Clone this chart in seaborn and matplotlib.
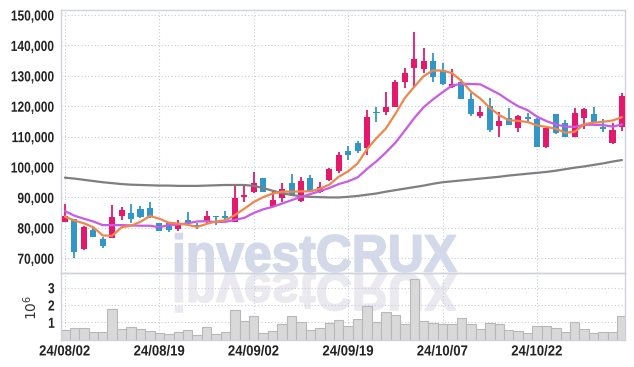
import numpy as np
import pandas as pd
import matplotlib
matplotlib.use('Agg')
import matplotlib.pyplot as plt
import seaborn as sns
from matplotlib import patheffects
from matplotlib.transforms import Affine2D
from matplotlib.ticker import FuncFormatter

# ----
# Data (prices in thousands, volume in millions)
# ----
dates = ['24/08/02', '24/08/05', '24/08/06', '24/08/07', '24/08/08', '24/08/09', '24/08/12', '24/08/13',
         '24/08/14', '24/08/16', '24/08/19', '24/08/20', '24/08/21', '24/08/22', '24/08/23', '24/08/26',
         '24/08/27', '24/08/28', '24/08/29', '24/08/30', '24/09/02', '24/09/03', '24/09/04', '24/09/05',
         '24/09/06', '24/09/09', '24/09/10', '24/09/11', '24/09/12', '24/09/13', '24/09/19', '24/09/20',
         '24/09/23', '24/09/24', '24/09/25', '24/09/26', '24/09/27', '24/09/30', '24/10/02', '24/10/04',
         '24/10/07', '24/10/08', '24/10/10', '24/10/11', '24/10/14', '24/10/15', '24/10/16', '24/10/17',
         '24/10/18', '24/10/21', '24/10/22', '24/10/23', '24/10/24', '24/10/25', '24/10/28', '24/10/29',
         '24/10/30', '24/10/31', '24/11/01', '24/11/04']
open_k = [82.0, 82.8, 73.0, 79.3, 76.3, 76.7, 84.0, 84.8, 86.1, 86.6, 81.5, 81.5, 79.5, 82.6, 80.9, 82.0,
          83.8, 83.9, 82.0, 90.0, 91.9, 96.3, 87.0, 89.9, 94.8, 88.9, 96.5, 91.9, 95.7, 98.8, 105.3, 107.8,
          106.2, 118.0, 118.2, 119.8, 128.1, 132.5, 132.1, 135.0, 131.9, 126.2, 127.9, 122.4, 116.9, 120.2,
          113.6, 116.0, 112.9, 116.3, 115.8, 106.7, 117.4, 114.6, 110.0, 116.0, 117.4, 113.3, 107.8, 113.1]
high_k = [88.0, 83.0, 80.5, 80.4, 77.0, 87.5, 86.9, 87.8, 87.2, 88.4, 81.7, 81.8, 82.6, 85.3, 81.5, 85.6,
          84.0, 85.6, 94.0, 94.1, 98.5, 96.3, 92.1, 94.6, 97.7, 96.8, 97.4, 95.2, 99.8, 105.0, 107.0, 108.6,
          118.8, 119.8, 124.8, 128.6, 132.5, 144.3, 139.2, 137.4, 134.3, 132.1, 128.9, 124.4, 120.2, 122.6,
          118.2, 119.3, 117.2, 117.9, 116.0, 113.5, 117.4, 115.5, 119.5, 119.3, 119.6, 115.7, 114.6, 124.4]
low_k = [81.8, 70.0, 72.8, 77.0, 73.3, 76.5, 82.6, 81.7, 83.2, 83.3, 78.8, 78.7, 79.1, 81.0, 79.7, 81.5,
         80.9, 82.0, 81.9, 88.6, 91.5, 91.9, 86.8, 88.6, 90.8, 88.4, 91.9, 91.3, 95.4, 97.9, 102.3, 104.5,
         104.0, 114.9, 117.1, 119.8, 125.9, 126.4, 130.8, 128.1, 127.0, 125.9, 122.5, 116.9, 116.0, 111.6,
         110.0, 113.8, 111.6, 114.9, 106.7, 106.4, 110.8, 110.0, 110.0, 112.4, 114.9, 111.6, 107.6, 112.0]
close_k = [83.9, 72.2, 80.2, 77.1, 74.1, 83.5, 85.9, 82.9, 83.7, 83.5, 79.1, 79.3, 81.5, 81.5, 80.2, 83.9,
           83.6, 83.4, 89.7, 90.8, 94.8, 91.9, 89.2, 92.8, 90.8, 95.4, 91.9, 93.5, 99.4, 104.0, 104.0, 105.3,
           116.6, 117.8, 119.8, 128.1, 131.0, 135.4, 135.0, 129.7, 127.3, 127.2, 122.5, 117.4, 118.2, 112.2,
           115.2, 113.8, 116.8, 115.9, 106.7, 112.7, 111.1, 110.0, 117.7, 119.1, 114.9, 112.6, 112.2, 123.4]
ma5_k = [83.7, 82.4, 81.5, 80.2, 77.5, 77.4, 80.2, 80.7, 82.0, 83.9, 83.0, 81.7, 81.4, 81.0, 80.3, 81.3,
         82.1, 82.5, 84.2, 86.3, 88.5, 90.1, 91.3, 91.9, 91.9, 92.0, 92.0, 92.9, 94.2, 96.8, 98.6, 101.2,
         105.9, 109.5, 112.7, 117.5, 122.7, 126.4, 129.9, 131.8, 131.7, 130.9, 128.3, 124.8, 122.5, 119.5,
         117.1, 115.4, 115.2, 114.8, 113.7, 113.2, 112.6, 111.3, 111.6, 114.1, 114.6, 114.9, 115.3, 116.4]
ma10_k = [85.5, 84.0, 83.0, 82.1, 80.9, 80.9, 80.9, 80.8, 80.7, 80.7, 80.2, 80.9, 81.1, 81.5, 82.1, 82.2,
          81.9, 82.0, 82.6, 83.3, 84.9, 86.1, 86.9, 88.0, 89.1, 90.2, 91.1, 92.1, 93.1, 94.4, 95.3, 96.6,
          99.4, 101.9, 104.8, 108.0, 112.0, 116.1, 119.7, 122.3, 124.6, 126.8, 127.4, 127.3, 127.2, 125.6,
          124.0, 121.9, 120.0, 118.7, 116.6, 115.1, 114.0, 113.3, 113.2, 113.9, 113.9, 113.8, 113.3, 114.0]
ma_long_k = [96.5, 96.2, 95.8, 95.4, 95.0, 94.7, 94.4, 94.2, 94.1, 94.0, 93.9, 93.9, 93.8, 93.8, 93.8, 93.9,
             94.0, 94.1, 94.1, 94.1, 93.8, 93.1, 92.2, 91.4, 90.8, 90.4, 90.2, 90.1, 90.0, 90.0, 90.2, 90.5,
             90.9, 91.3, 91.9, 92.4, 92.9, 93.4, 93.9, 94.5, 95.0, 95.3, 95.6, 95.9, 96.2, 96.5, 96.8, 97.2,
             97.5, 97.8, 98.1, 98.4, 98.8, 99.3, 99.8, 100.2, 100.7, 101.2, 101.8, 102.3]
volume_m = [0.55, 0.65, 0.65, 0.44, 0.44, 1.75, 0.59, 0.71, 0.59, 0.50, 0.38, 0.32, 0.44, 0.54, 0.25, 0.71,
            0.32, 0.44, 1.69, 1.06, 1.35, 0.38, 0.50, 0.90, 1.35, 1.00, 0.55, 0.65, 0.94, 1.11, 0.79, 1.17,
            1.94, 1.02, 1.58, 1.42, 0.90, 3.49, 1.06, 0.96, 0.90, 0.90, 1.23, 0.90, 0.59, 0.96, 0.90, 0.55,
            0.50, 0.38, 0.77, 0.77, 0.65, 0.44, 1.02, 0.59, 0.38, 0.44, 0.44, 1.35]
tick_every = 10
watermark = 'investCRUX'

UP = '#e5196b'
DOWN = '#3396c9'
ORANGE = '#f0874a'
VIOLET = '#c95be6'
GREY = '#7f7f7f'
GRID = '#c6c9db'
SPINE = '#cfd2da'


# ---------
# Functions
# ---------

class Squeeze(patheffects.AbstractPathEffect):
    # narrows the glyphs horizontally, keeping one edge of the text fixed
    def __init__(self, sx, anchor='right'):
        super().__init__()
        self.sx = sx
        self.anchor = anchor

    def draw_path(self, renderer, gc, tpath, affine, rgbFace=None):
        ext = affine.transform_path(tpath).get_extents()
        x0 = {'right': ext.x1, 'left': ext.x0, 'center': (ext.x0 + ext.x1) / 2}[self.anchor]
        aff = affine + Affine2D().translate(-x0, 0).scale(self.sx, 1).translate(x0, 0)
        renderer.draw_path(gc, tpath, aff, rgbFace)


class FitBox(patheffects.AbstractPathEffect):
    # stretches the text into a pixel box (optionally mirrored) and thickens it a bit
    def __init__(self, box, flip=False, lw=1.2):
        super().__init__()
        self.box = box
        self.flip = flip
        self.lw = lw

    def draw_path(self, renderer, gc, tpath, affine, rgbFace=None):
        x0, y0, x1, y1 = self.box
        ext = affine.transform_path(tpath).get_extents()
        sx = (x1 - x0) / ext.width
        sy = (y1 - y0) / ext.height
        if self.flip:
            aff = affine + Affine2D().translate(-ext.x0, -ext.y0).scale(sx, -sy).translate(x0, y1)
        else:
            aff = affine + Affine2D().translate(-ext.x0, -ext.y0).scale(sx, sy).translate(x0, y0)
        gc0 = renderer.new_gc()
        gc0.copy_properties(gc)
        gc0.set_linewidth(self.lw)
        gc0.set_foreground(rgbFace)
        renderer.draw_path(gc0, tpath, aff, rgbFace)
        gc0.restore()


df = pd.DataFrame({'idx': np.arange(len(dates)), 'date': dates,
                   'open': np.array(open_k) * 1000, 'high': np.array(high_k) * 1000,
                   'low': np.array(low_k) * 1000, 'close': np.array(close_k) * 1000,
                   'ma5': np.array(ma5_k) * 1000, 'ma10': np.array(ma10_k) * 1000,
                   'ma_long': np.array(ma_long_k) * 1000, 'volume': np.array(volume_m) * 1e6})

# ----
# Plot
# ----
sns.set_style('white')
plt.rcParams['font.family'] = ['Liberation Sans', 'DejaVu Sans']

fig = plt.figure(figsize=(6.34, 3.67), dpi=100)
ax = fig.add_axes([61 / 634, 94 / 367, 563.5 / 634, 263 / 367])
axv = fig.add_axes([61 / 634, 27.4 / 367, 563.5 / 634, 66.6 / 367])
axv.patch.set_alpha(0)  # the reflected watermark sits behind the volume bars

# candles
up = df['close'] >= df['open']
cols = np.where(up, UP, DOWN)
ax.vlines(df['idx'], df['low'], df['high'], colors=cols, linewidth=1.3, zorder=3)
body = (df['close'] - df['open']).abs()
body_h = body.clip(lower=300)
body_bottom = np.minimum(df['open'], df['close']) - (body_h - body) / 2
ax.bar(df['idx'], body_h, bottom=body_bottom, width=0.64, color=cols, linewidth=0, zorder=4)

# moving averages
sns.lineplot(data=df, x='idx', y='ma_long', ax=ax, color=GREY, linewidth=1.6, zorder=5)
sns.lineplot(data=df, x='idx', y='ma10', ax=ax, color=VIOLET, linewidth=1.6, zorder=5)
sns.lineplot(data=df, x='idx', y='ma5', ax=ax, color=ORANGE, linewidth=1.6, zorder=6)

# volume
sns.barplot(data=df, x='idx', y='volume', ax=axv, native_scale=True, width=1.0, color='#d9d9d9',
            saturation=1, edgecolor='#b8b8b8', linewidth=0.8, errorbar=None)

tick_idx = list(range(0, len(dates), tick_every))
for a in (ax, axv):
    a.set_xlim(-0.42, 59.27)
    a.set_xticks(tick_idx)
    a.set_axisbelow(True)
    a.grid(True, color=GRID, linestyle=(0, (1, 2)), linewidth=0.8)
    a.set_xlabel('')
    a.set_ylabel('')
    a.tick_params(length=0, labelsize=10.5, labelcolor='#222222')
    for s in a.spines.values():
        s.set_color(SPINE)
        s.set_linewidth(1)

ax.set_ylim(65150, 151650)
ax.set_yticks(range(70000, 150001, 10000))
ax.yaxis.set_major_formatter(FuncFormatter(lambda v, p: f'{int(v):,}'))
ax.set_xticklabels([])
ax.tick_params(axis='y', pad=4.5)

axv.set_ylim(0, 3.85e6)
axv.set_yticks([1e6, 2e6, 3e6])
axv.set_yticklabels(['1', '2', '3'])
axv.set_xticklabels([dates[i] for i in tick_idx])
axv.tick_params(axis='y', pad=4.5)
axv.tick_params(axis='x', pad=3.5)

# condensed look of the tick labels
for lbl in ax.get_yticklabels() + axv.get_yticklabels():
    lbl.set_fontweight('bold')
    lbl.set_path_effects([Squeeze(0.82, 'right')])
for lbl in axv.get_xticklabels():
    lbl.set_fontweight('bold')
    lbl.set_path_effects([Squeeze(0.9, 'center')])

fig.text(31 / 634, 1 - 307 / 367, r'$10^6$', rotation=90, ha='center', va='center',
         fontsize=10, color='#333333')

# watermark and its reflection (pixel boxes, origin bottom-left)
fig.text(175 / 634, 100 / 367, watermark, fontsize=20, fontweight='bold', color='#d3d9e8',
         ha='left', va='bottom', zorder=10,
         path_effects=[FitBox((175.5, 95, 456.5, 133.5))])
fig.text(175 / 634, 90 / 367, watermark, fontsize=20, fontweight='bold', color='#e9e9ef',
         ha='left', va='top', zorder=-1,
         path_effects=[FitBox((175.5, 55, 456.5, 93.5), flip=True)])

fig.savefig('out.png', dpi=100)
